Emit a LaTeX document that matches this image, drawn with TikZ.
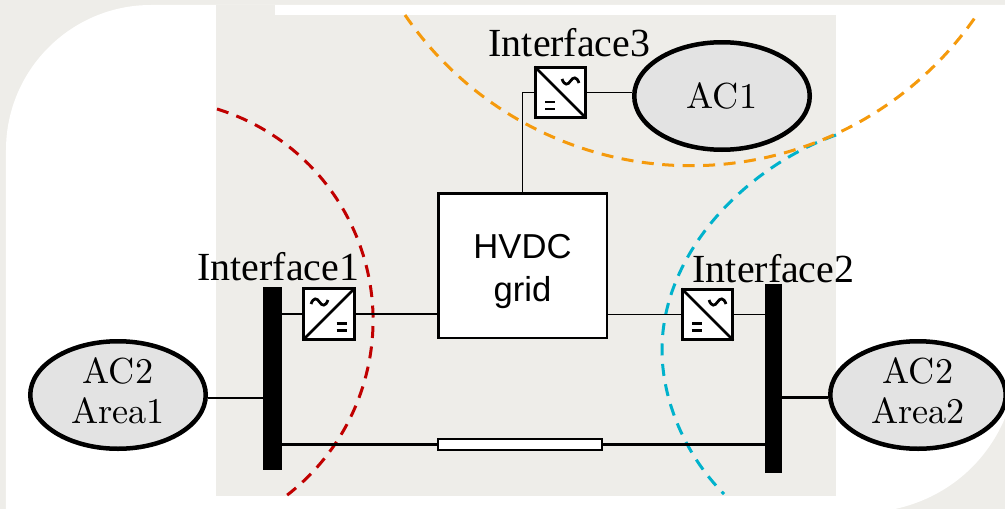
\documentclass[tikz,border=0pt]{standalone}
\usepackage{fontspec}
\newfontfamily\hvdcfont{Liberation Sans}
\newfontfamily\labelfont{Liberation Serif}
\newfontfamily\acfont{lmroman10-regular.otf}
\usepackage{xcolor}
\usetikzlibrary{shapes.geometric}
\definecolor{panelgray}{HTML}{EEEDE9}
\definecolor{acgray}{HTML}{E3E3E3}
\definecolor{redarc}{HTML}{C00000}
\definecolor{orangearc}{HTML}{F59A0C}
\definecolor{cyanarc}{HTML}{00B2CC}
\tikzset{
  acnet/.style={ellipse,draw,fill=acgray,line width=0.09cm,minimum width=3.51cm,minimum height=2.15cm,inner sep=0pt,align=center,font=\acfont\fontsize{20.6}{22.7}\selectfont},
  busbar/.style={rectangle,fill=black,inner sep=0pt},
  conv/.style={rectangle,draw,fill=white,line width=0.06cm,minimum size=1.01cm,inner sep=0pt},
  iflabel/.style={anchor=base,inner sep=0pt,font=\labelfont\fontsize{22.7}{24}\selectfont},
  thinline/.style={line width=0.026cm},
  thickline/.style={line width=0.05cm},
  boundary/.style={line width=0.06cm,dash pattern=on 0.24cm off 0.17cm},
  diag/.style={line width=0.055cm,shorten <=0.03cm,shorten >=0.03cm},
  wave/.pic={\draw[line width=0.055cm] (-0.17,-0.04) .. controls (-0.12,0.1) and (-0.05,0.08) .. (0,0) .. controls (0.05,-0.08) and (0.12,-0.1) .. (0.17,0.04);},
  dcsign/.pic={\draw[line width=0.05cm] (-0.1,0.07) -- (0.1,0.07) (-0.1,-0.07) -- (0.1,-0.07);}
}
\begin{document}
\begin{tikzpicture}
\useasboundingbox (0,0) rectangle (20.1,10.18);
% background
\fill[panelgray] (0,0) rectangle (20.1,10.18);
\fill[white] (0.12,0) -- (0.12,7.18) .. controls (0.12,8.78) and (1.42,10.08) .. (3.02,10.08) -- (20.1,10.08) -- (20.1,1.82) .. controls (19.7,0.88) and (18.9,0.22) .. (17.9,0) -- cycle;
\fill[panelgray] (4.32,0.26) rectangle (16.72,9.88);
\fill[panelgray] (4.32,9.88) rectangle (5.5,10.08);
% interface boundaries
\draw[boundary,redarc] (4.34,8.0) arc[start angle=72.9,end angle=-52.3,radius=4.42];
\draw[boundary,cyanarc] (16.72,7.48) .. controls (15,6.88) and (13.24,5.18) .. (13.24,3.18) .. controls (13.24,2.18) and (13.7,1.08) .. (14.48,0.3);
\draw[boundary,orangearc] (8.1,9.88) arc[start angle=214.4,end angle=325.6,radius=6.93];
% nodes
\node[acnet] (ac1) at (14.44,8.26) {AC1};
\node[acnet] (ac21) at (2.36,2.28) {AC2\\Area1\rule[-0.18cm]{0pt}{0pt}};
\node[acnet] (ac22) at (18.36,2.28) {AC2\\Area2\rule[-0.18cm]{0pt}{0pt}};
\node[busbar,minimum width=0.38cm,minimum height=3.66cm] (bus1) at (5.45,2.61) {};
\node[busbar,minimum width=0.34cm,minimum height=3.78cm] (bus2) at (15.47,2.61) {};
\node[rectangle,draw,fill=white,line width=0.05cm,minimum width=3.37cm,minimum height=2.89cm,align=center,font=\hvdcfont\fontsize{19.7}{24.4}\selectfont] (hvdc) at (10.45,4.87) {\rule{0pt}{0.74cm}HVDC\\grid};
\node[conv] (cv1) at (6.58,3.9) {};
\node[conv] (cv2) at (14.15,3.89) {};
\node[conv] (cv3) at (11.21,8.33) {};
\node[rectangle,draw,fill=white,line width=0.045cm,minimum width=3.28cm,minimum height=0.23cm,inner sep=0pt] (line12) at (10.4,1.29) {};
\node[iflabel] (if1) at (5.57,4.58) {Interface1};
\node[iflabel] (if2) at (15.47,4.54) {Interface2};
\node[iflabel] (if3) at (11.39,9.06) {Interface3};
% converter symbols
\draw[diag] (cv1.south west) -- (cv1.north east);
\draw[diag] (cv2.north west) -- (cv2.south east);
\draw[diag] (cv3.north west) -- (cv3.south east);
\pic at ([shift={(-0.19,0.24)}]cv1.center) {wave};
\pic at ([shift={(0.25,-0.26)}]cv1.center) {dcsign};
\pic[xscale=-1] at ([shift={(0.2,0.25)}]cv2.center) {wave};
\pic at ([shift={(-0.21,-0.25)}]cv2.center) {dcsign};
\pic[xscale=-1] at ([shift={(0.2,0.23)}]cv3.center) {wave};
\pic at ([shift={(-0.21,-0.26)}]cv3.center) {dcsign};
% connections
\draw[thinline] (cv1.west) -- (cv1.west -| bus1.east);
\draw[thinline] (cv1.east) -- (cv1.east -| hvdc.west);
\draw[thinline] (hvdc.east |- cv2.west) -- (cv2.west);
\draw[thinline] (cv2.east) -- (cv2.east -| bus2.west);
\draw[thinline] (hvdc.north) -- (hvdc.north |- cv3.west) -- (cv3.west);
\draw[thinline] (cv3.east) -- (cv3.east -| ac1.west);
\draw[thickline] ([yshift=-0.06cm]ac21.east) -- ([yshift=-0.06cm]ac21.east -| bus1.west);
\draw[thickline] ([yshift=-0.05cm]ac22.west) -- ([yshift=-0.05cm]ac22.west -| bus2.east);
\draw[thickline] (line12.west -| bus1.east) -- (line12.west);
\draw[thickline] (line12.east) -- (line12.east -| bus2.west);
\end{tikzpicture}
\end{document}
